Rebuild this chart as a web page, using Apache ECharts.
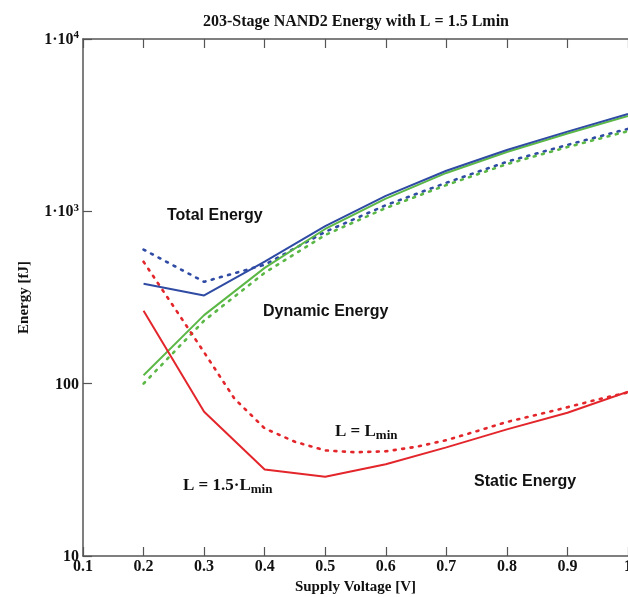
<!DOCTYPE html>
<html>
<head>
<meta charset="utf-8">
<script src="https://cdn.jsdelivr.net/npm/echarts@6/dist/echarts.min.js"></script>
<style>
  html, body { margin: 0; padding: 0; background: #fff; }
  #chart { width: 628px; height: 597px; }
</style>
</head>
<body>
<div id="chart"></div>
<script>
// Supply voltage sweep (V)
const voltsCoarse = [0.2, 0.3, 0.4, 0.5, 0.6, 0.7, 0.8, 0.9, 1.0];
const voltsFine = [0.2, 0.25, 0.3, 0.35, 0.4, 0.45, 0.5, 0.55, 0.6, 0.65, 0.7, 0.75, 0.8, 0.85, 0.9, 0.95, 1.0];

// Energies (fJ) for L = 1.5 Lmin (solid)
const totalWide   = [380, 325, 510, 820, 1230, 1720, 2270, 2900, 3670];
const dynamicWide = [112, 250, 470, 790, 1185, 1670, 2210, 2830, 3580];
const staticWide  = [265, 68.7, 31.8, 28.8, 34.1, 42.7, 54.3, 67.8, 89.8];

// Energies (fJ) for L = Lmin (dotted)
const totalMin   = [600, 390, 490, 760, 1085, 1465, 1940, 2430, 3010];
const dynamicMin = [100, 232, 440, 729, 1045, 1420, 1880, 2360, 2920];
const staticMin  = [510, 279, 152, 82, 55, 46, 41, 40, 40.5, 43, 47, 53, 60, 66, 73, 81, 89];

const titleText = '203-Stage NAND2 Energy with L = 1.5 Lmin';
const xName = 'Supply Voltage [V]';
const yName = 'Energy [fJ]';

const RED = '#e3262b', BLUE = '#2f4ba3', GREEN = '#5cb846';
const SERIF = '"Liberation Serif", "DejaVu Serif", serif';
const SANS = '"Liberation Sans", Arial, sans-serif';

const pairs = (xs, ys) => xs.map((x, i) => [x, ys[i]]);

function line(name, xs, ys, color, dotted) {
  return {
    name, type: 'line', data: pairs(xs, ys), symbol: 'none', smooth: false,
    lineStyle: dotted
      ? { color, width: 2.6, type: [2, 6.5], cap: 'round' }
      : { color, width: 2 },
    z: dotted ? 3 : 4
  };
}

const chart = echarts.init(document.getElementById('chart'), null, { renderer: 'canvas' });

const axisColor = '#555';
const tickFont = { color: '#111', fontFamily: SERIF, fontWeight: 'bold', fontSize: 16 };
const nameFont = { fontFamily: SERIF, fontWeight: 'bold', fontSize: 15, color: '#111' };

function serifLabel(x, y, main, sub) {
  return {
    type: 'text', x, y,
    style: {
      text: '{a|' + main + '}{b|' + sub + '}',
      verticalAlign: 'middle',
      rich: {
        a: { fontFamily: SERIF, fontWeight: 'bold', fontSize: 17, fill: '#111', color: '#111' },
        b: { fontFamily: SERIF, fontWeight: 'bold', fontSize: 13, fill: '#111', color: '#111', padding: [7, 0, 0, 0] }
      }
    }
  };
}

function sansLabel(x, y, text) {
  return { type: 'text', x, y, style: { text, font: 'bold 16px ' + SANS, fill: '#111', verticalAlign: 'middle' } };
}

chart.setOption({
  animation: false,
  backgroundColor: '#fff',
  title: {
    text: titleText, left: 351, top: 9, textAlign: 'center',
    textStyle: { fontFamily: SERIF, fontWeight: 'bold', fontSize: 16, color: '#111' }
  },
  grid: { left: 83, right: 0, top: 39, bottom: 41, containLabel: false, outerBoundsMode: 'none' },
  xAxis: [{
    type: 'value', min: 0.1, max: 1.0, interval: 0.1,
    name: xName, nameLocation: 'middle', nameGap: 23,
    nameTextStyle: nameFont,
    axisLine: { lineStyle: { color: axisColor, width: 1.5 } },
    axisTick: { inside: true, length: 9, lineStyle: { color: axisColor, width: 1.2 } },
    axisLabel: Object.assign({}, tickFont, {
      margin: 3, hideOverlap: false, showMaxLabel: true, showMinLabel: true,
      formatter: v => (Math.abs(v - 1) < 1e-9 ? '1' : v.toFixed(1))
    }),
    splitLine: { show: false }
  }, {
    type: 'value', position: 'top', min: 0.1, max: 1.0, interval: 0.1,
    axisLine: { lineStyle: { color: axisColor, width: 1.5 } },
    axisTick: { inside: true, length: 9, lineStyle: { color: axisColor, width: 1.2 } },
    axisLabel: { show: false }, splitLine: { show: false }
  }],
  yAxis: {
    type: 'log', logBase: 10, min: 10, max: 10000,
    name: yName, nameLocation: 'middle', nameGap: 51, nameRotate: 90,
    nameTextStyle: nameFont,
    axisLine: { show: true, lineStyle: { color: axisColor, width: 1.5 } },
    axisTick: { show: true, inside: true, length: 9, lineStyle: { color: axisColor, width: 1.2 } },
    minorTick: { show: false },
    splitLine: { show: false },
    axisLabel: {
      margin: 4,
      formatter: v => {
        if (v < 50) return '{n|10}';
        if (v < 500) return '{n|100}';
        const e = Math.round(Math.log10(v));
        return '{n|1·10}{s|' + e + '}';
      },
      rich: {
        n: { fontFamily: SERIF, fontWeight: 'bold', fontSize: 16, color: '#111', verticalAlign: 'bottom', lineHeight: 18 },
        s: { fontFamily: SERIF, fontWeight: 'bold', fontSize: 11, color: '#111', verticalAlign: 'top', lineHeight: 18, padding: [0, 0, 12, 0] }
      }
    }
  },
  graphic: [
    sansLabel(167, 216, 'Total Energy'),
    sansLabel(263, 312, 'Dynamic Energy'),
    sansLabel(474, 482, 'Static Energy'),
    serifLabel(335, 432, 'L = L', 'min'),
    serifLabel(183, 486, 'L = 1.5·L', 'min')
  ],
  series: [
    line('Total, L = Lmin', voltsCoarse, totalMin, BLUE, true),
    line('Dynamic, L = Lmin', voltsCoarse, dynamicMin, GREEN, true),
    line('Static, L = Lmin', voltsFine, staticMin, RED, true),
    line('Dynamic, L = 1.5 Lmin', voltsCoarse, dynamicWide, GREEN, false),
    line('Total, L = 1.5 Lmin', voltsCoarse, totalWide, BLUE, false),
    line('Static, L = 1.5 Lmin', voltsCoarse, staticWide, RED, false)
  ]
});
</script>
</body>
</html>
